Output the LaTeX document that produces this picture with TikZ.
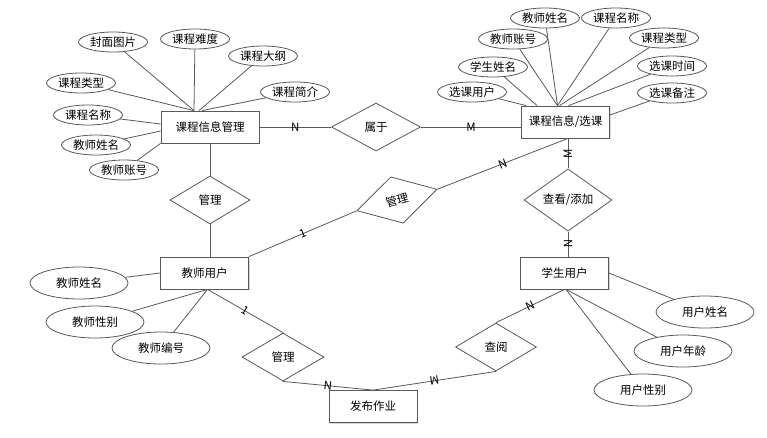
\documentclass[tikz,border=0pt]{standalone}
\usepackage{fontspec}
\setmainfont{Noto Sans CJK SC}
\usetikzlibrary{shapes.geometric,shadows}

\begin{document}
\begin{tikzpicture}[x=1pt,y=-1pt,
  font=\fontsize{11.5}{13}\selectfont,
  link/.style={draw=black!65, line width=0.8pt},
  entity/.style={link, rectangle, fill=white, minimum width=88pt, minimum height=32pt, inner sep=0pt,
    drop shadow={shadow xshift=1.2pt, shadow yshift=-1.2pt, opacity=0.3}},
  attr/.style={link, ellipse, fill=white, minimum width=69pt, minimum height=20pt, inner sep=0pt},
  bigattr/.style={attr, minimum width=98pt, minimum height=32pt},
  rel/.style={link, diamond, fill=white, minimum width=82pt, minimum height=48pt, inner sep=0pt},
  card/.style={midway, sloped, inner sep=1pt, font=\fontsize{11.5}{13}\selectfont}]
  \useasboundingbox (0,0) rectangle (767,437);

  % Draw the entities
  \node[entity, minimum width=98pt] (kc) at (210,127) {课程信息管理};
  \node[entity] (xk) at (565.5,122) {课程信息/选课};
  \node[entity] (js) at (204.5,273) {教师用户};
  \node[entity] (xs) at (564.5,273) {学生用户};
  \node[entity] (fb) at (373,406.5) {发布作业};

  % Draw the relations
  \node[rel, minimum width=89pt] (sy) at (376,127) {属于};
  \node[rel, minimum width=80pt] (gl1) at (210,200) {管理};
  \node[rel, minimum width=83pt, rotate=15] (gl2) at (397,200) {管理};
  \node[rel, minimum width=88pt] (ck) at (568,200) {查看/添加};
  \node[rel] (gl3) at (283,357) {管理};
  \node[rel, minimum width=81pt] (cy) at (496,347) {查阅};

  % attributes of 课程信息管理
  \node[attr] (kc1) at (113,42) {封面图片};
  \node[attr] (kc2) at (195,39) {课程难度};
  \node[attr] (kc3) at (263,56) {课程大纲};
  \node[attr] (kc4) at (295,92) {课程简介};
  \node[attr] (kc5) at (81,83) {课程类型};
  \node[attr] (kc6) at (88,115) {课程名称};
  \node[attr] (kc7) at (96,145) {教师姓名};
  \node[attr] (kc8) at (124,170) {教师账号};
  \draw[link] (kc1) -- ([xshift=-16pt]kc.north);
  \draw[link] (kc2) -- ([xshift=-16pt]kc.north);
  \draw[link] (kc3) -- ([xshift=-11pt]kc.north);
  \draw[link] (kc4) -- ([xshift=-8pt]kc.north);
  \draw[link] (kc5) -- ([xshift=-16pt]kc.north);
  \draw[link] (kc6) -- ([yshift=3pt]kc.west);
  \draw[link] (kc7) -- ([yshift=-4pt]kc.west);
  \draw[link] (kc8) -- (kc.south west);

  % attributes of 课程信息/选课
  \node[attr] (xk1) at (472,92) {选课用户};
  \node[attr] (xk2) at (493,67) {学生姓名};
  \node[attr] (xk3) at (513,39) {教师账号};
  \node[attr] (xk4) at (545,18) {教师姓名};
  \node[attr] (xk5) at (616,18) {课程名称};
  \node[attr] (xk6) at (664,38) {课程类型};
  \node[attr] (xk7) at (672,66) {选课时间};
  \node[attr] (xk8) at (672,93) {选课备注};
  \draw[link] (xk1) -- ([xshift=5pt]xk.north west);
  \draw[link] (xk2) -- ([xshift=16pt]xk.north west);
  \draw[link] (xk3) -- ([xshift=-8pt]xk.north);
  \draw[link] (xk4) -- ([xshift=-8pt]xk.north);
  \draw[link] (xk5) -- ([xshift=-8pt]xk.north);
  \draw[link] (xk6) -- ([xshift=-6pt]xk.north);
  \draw[link] (xk7) -- ([xshift=3pt]xk.north);
  \draw[link] (xk8) -- ([yshift=7pt]xk.east);

  % attributes of the users
  \node[bigattr] (js1) at (79,283) {教师姓名};
  \node[bigattr] (js2) at (95,322) {教师性别};
  \node[bigattr] (js3) at (161,348) {教师编号};
  \node[bigattr] (xs1) at (705,312) {用户姓名};
  \node[bigattr] (xs2) at (683,351) {用户年龄};
  \node[bigattr] (xs3) at (643,390) {用户性别};
  \draw[link] (js1) -- (js.west);
  \draw[link] (js2) -- ([xshift=3pt]js.south);
  \draw[link] (js3) -- ([xshift=3pt]js.south);
  \draw[link] (xs1) -- (xs.east);
  \draw[link] (xs2) -- ([xshift=1.5pt]xs.south);
  \draw[link] (xs3) -- ([xshift=1.5pt]xs.south);

  % Draw the relation lines
  \coordinate (xkb) at (ck.north |- xk.south);
  \draw[link] (kc) -- node[card]{N} (sy);
  \draw[link] (sy.east) -- node[card]{M} (sy.east -| xk.west);
  \draw[link] (kc.south) -- (gl1.north);
  \draw[link] (gl1.south) -- (gl1.south |- js.north);
  \draw[link] (js.north east) -- node[card]{1} (gl2.west);
  \draw[link] (gl2.east) -- node[card]{N} (xkb);
  \draw[link] (ck.north) -- node[card, allow upside down]{M} (xkb);
  \draw[link] (ck.south) -- node[card]{N} (ck.south |- xs.north);
  \draw[link] ([xshift=3pt]js.south) -- node[card]{1} (gl3.north);
  \draw[link] (gl3.south) -- node[card]{N} (fb.north);
  \draw[link] (xs.south) -- node[card]{N} (cy.north);
  \draw[link] (cy.south) -- node[card, allow upside down]{M} (fb.north);
\end{tikzpicture}
\end{document}
